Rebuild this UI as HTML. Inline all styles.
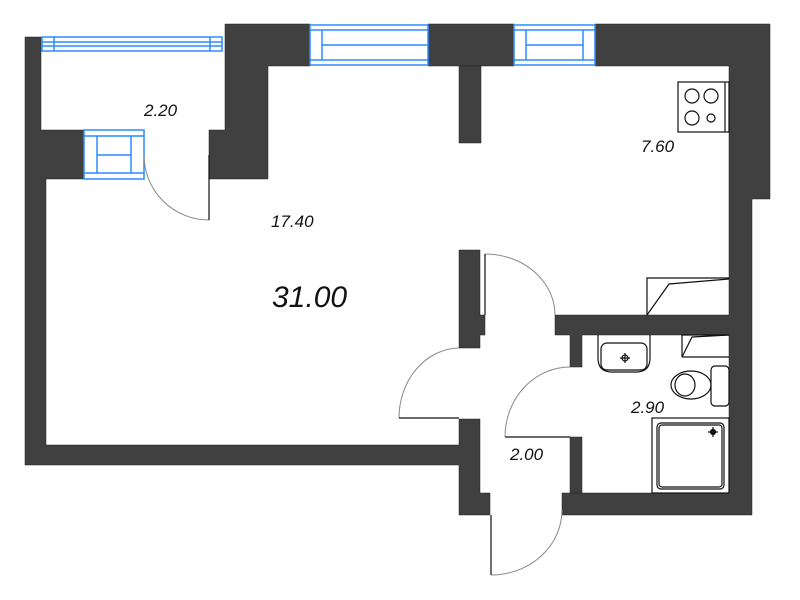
<!DOCTYPE html>
<html><head><meta charset="utf-8"><style>body{margin:0;background:#fff}svg{display:block}text{font-family:"Liberation Sans",sans-serif;font-style:italic;fill:#111}</style></head><body>
<svg width="800" height="600" viewBox="0 0 800 600">
<g fill="#404040" stroke="#222" stroke-width="0.5">
<path d="M25 37H41V130H84V179H46V445H459V419H480V493H490V515H459V465H25Z"/>
<path d="M225 24H310V66H268V179H209V130H225Z"/>
<rect x="428" y="24" width="86" height="42"/>
<path d="M595 24H770V199H752V515H562V493H729V335H582V367H570V335H555V315H729V66H595Z"/>
<rect x="459" y="66" width="22" height="77"/>
<path d="M459 250H480V315H485V335H480V348H459Z"/>
<rect x="570" y="437" width="12" height="56"/>
</g>
<g fill="none" stroke="#2a8cff" stroke-width="1.5">
<rect x="42" y="37" width="180" height="14"/><line x1="42" y1="42" x2="222" y2="42"/><line x1="42" y1="46" x2="222" y2="46"/><line x1="54" y1="37" x2="54" y2="51"/><line x1="210" y1="37" x2="210" y2="51"/>
<rect x="310" y="25" width="118" height="40"/><line x1="310" y1="30" x2="428" y2="30"/><line x1="310" y1="60" x2="428" y2="60"/><line x1="322" y1="30" x2="322" y2="60"/><line x1="322" y1="45" x2="428" y2="45"/>
<rect x="514" y="25" width="81" height="40"/><line x1="514" y1="30" x2="595" y2="30"/><line x1="514" y1="60" x2="595" y2="60"/><line x1="526" y1="30" x2="526" y2="60"/><line x1="583" y1="30" x2="583" y2="60"/><line x1="526" y1="45" x2="583" y2="45"/>
<rect x="84" y="130" width="60" height="49"/><line x1="84" y1="136" x2="144" y2="136"/><line x1="84" y1="173" x2="144" y2="173"/><line x1="97" y1="136" x2="97" y2="173"/><line x1="131" y1="136" x2="131" y2="173"/><line x1="97" y1="155" x2="131" y2="155"/>
</g>
<g fill="none" stroke="#888" stroke-width="1">
<path d="M144 155A65 65 0 0 0 209 220"/><path d="M485 254A70 61 0 0 1 555 315"/><path d="M399 418A61 70 0 0 1 459 348"/><path d="M505 437A65 70 0 0 1 570 367"/><path d="M491 575A71 65 0 0 0 562 510"/>
</g>
<g fill="none" stroke="#111" stroke-width="1.2">
<line x1="209" y1="155" x2="209" y2="220"/><line x1="485" y1="254" x2="485" y2="315"/><line x1="399" y1="418" x2="459" y2="418"/><line x1="505" y1="437" x2="570" y2="437"/><line x1="491" y1="515" x2="491" y2="575"/>
<rect x="678" y="82" width="51" height="50" fill="#fff"/><line x1="725" y1="82" x2="725" y2="132"/>
<circle cx="692" cy="96" r="7"/><circle cx="711" cy="96" r="7"/><circle cx="692" cy="118" r="7"/><circle cx="711" cy="118" r="4"/>
<path d="M647 315V278H729"/><path d="M647 315L669 284L729 279"/>
<path d="M682 357V335H729"/><path d="M682 357L692 337L729 335M682 357H729"/>
<path d="M598 335V358Q598 372 612 372H636Q650 372 650 358V335"/><rect x="601" y="343" width="46" height="27" rx="6"/>
<path d="M620 358h10M625 353v10"/><circle cx="625" cy="358" r="3"/>
<rect x="711" y="366" width="18" height="40" rx="4"/><ellipse cx="691" cy="385" rx="20" ry="14"/><ellipse cx="685" cy="385" rx="10" ry="11"/>
<rect x="652" y="418" width="77" height="75" fill="none"/><rect x="657" y="423" width="67" height="66" rx="4"/><rect x="659" y="425" width="63" height="62" rx="3"/>
<path d="M708 432h10M713 427v10"/><circle cx="713" cy="432" r="2.5" fill="#111"/>
</g>
<text x="144" y="116" font-size="17">2.20</text>
<text x="271" y="227" font-size="17">17.40</text>
<text x="272" y="307" font-size="30">31.00</text>
<text x="641" y="152" font-size="17">7.60</text>
<text x="631" y="413" font-size="17">2.90</text>
<text x="510" y="460" font-size="17">2.00</text>
</svg>
</body></html>
